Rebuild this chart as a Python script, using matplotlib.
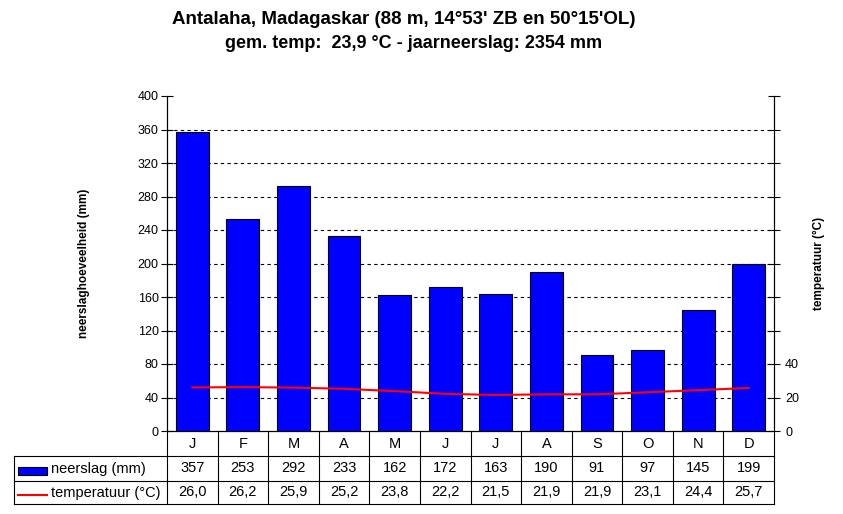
import matplotlib.pyplot as plt
import matplotlib.transforms as mtransforms

plt.rcParams['font.family'] = ['Liberation Sans', 'DejaVu Sans']

# climate data Antalaha
months = ['J', 'F', 'M', 'A', 'M', 'J', 'J', 'A', 'S', 'O', 'N', 'D']
neerslag = [357, 253, 292, 233, 162, 172, 163, 190, 91, 97, 145, 199]
temperatuur = [26.0, 26.2, 25.9, 25.2, 23.8, 22.2, 21.5, 21.9, 21.9, 23.1, 24.4, 25.7]
left_ticks = list(range(0, 401, 40))
right_ticks = list(range(0, 201, 20))
right_shown = [0, 20, 40]

W, H = 843, 514
fig = plt.figure(figsize=(W / 100, H / 100), dpi=100)

# plot area in pixels: x 167..774, y 96..431
x0, x1, y0, y1 = 167, 774, 96, 431
ax = fig.add_axes([x0 / W, 1 - y1 / H, (x1 - x0) / W, (y1 - y0) / H])
ax2 = ax.twinx()

x = list(range(len(months)))
ax.bar(x, neerslag, width=0.65, color='#0000ff', edgecolor='black', linewidth=0.8, zorder=3)
ax.set_xlim(-0.5, 11.5)
ax.set_ylim(0, 400)
ax.set_yticks(left_ticks)
ax.set_yticklabels([str(t) for t in left_ticks], fontsize=9)
for t in left_ticks[1:-1]:
    ax.axhline(t, color='black', lw=0.8, ls=(0, (3, 3)), zorder=1)

ax2.plot(x, temperatuur, color='red', lw=1.5, zorder=4)
ax2.set_ylim(0, 200)
ax2.set_yticks(right_ticks)
ax2.set_yticklabels([str(t) if t in right_shown else '' for t in right_ticks], fontsize=9)

for a in (ax, ax2):
    a.spines['top'].set_visible(False)
    a.tick_params(axis='y', direction='inout', length=8, width=0.8)
    a.set_xticks([])
ax.tick_params(axis='y', pad=2)
ax2.tick_params(axis='y', pad=4)

ax.set_ylabel('neerslaghoeveelheid (mm)', fontsize=8.5, fontweight='bold', labelpad=34)
ax2.set_ylabel('temperatuur (°C)', fontsize=8.5, fontweight='bold', labelpad=10)

# data table under the chart
ph = y1 - y0
def ay(py):
    return -(py - y1) / ph
def axx(px):
    return (px - x0) / (x1 - x0)

blend = mtransforms.blended_transform_factory(ax.transData, ax.transAxes)
kw = dict(color='black', lw=0.8, clip_on=False, transform=ax.transAxes)
for py in (456, 481, 504):
    ax.plot([axx(14), 1], [ay(py), ay(py)], **kw)
ax.plot([axx(14), axx(14)], [ay(456), ay(504)], **kw)
for b in range(len(months) + 1):
    ax.plot([b - 0.5, b - 0.5], [0, ay(504)], color='black', lw=0.8, clip_on=False, transform=blend)

for i, m in enumerate(months):
    ax.text(i, ay(443.5), m, transform=blend, ha='center', va='center', fontsize=10.5)
    ax.text(i, ay(468.5), str(neerslag[i]), transform=blend, ha='center', va='center', fontsize=10.5)
    ax.text(i, ay(492.5), f'{temperatuur[i]:.1f}'.replace('.', ','), transform=blend,
            ha='center', va='center', fontsize=10.5)

# legend keys in the table
ax.add_patch(plt.Rectangle((axx(18), ay(475)), axx(47) - axx(18), ay(467) - ay(475),
                           facecolor='#0000ff', edgecolor='black', lw=0.8,
                           transform=ax.transAxes, clip_on=False))
ax.plot([axx(18), axx(47)], [ay(494.5), ay(494.5)], color='red', lw=1.5,
        transform=ax.transAxes, clip_on=False)
ax.text(axx(51), ay(468.5), 'neerslag (mm)', transform=ax.transAxes, ha='left', va='center', fontsize=10.5)
ax.text(axx(51), ay(492.5), 'temperatuur (°C)', transform=ax.transAxes, ha='left', va='center', fontsize=10.5)

fig.text(403.5 / W, 1 - 19 / H, "Antalaha, Madagaskar (88 m, 14°53' ZB en 50°15'OL)",
         ha='center', va='center', fontsize=13.5, fontweight='bold')
fig.text(414 / W, 1 - 43 / H, 'gem. temp:  23,9 °C - jaarneerslag: 2354 mm',
         ha='center', va='center', fontsize=13, fontweight='bold')

fig.savefig('out.png', dpi=100)
